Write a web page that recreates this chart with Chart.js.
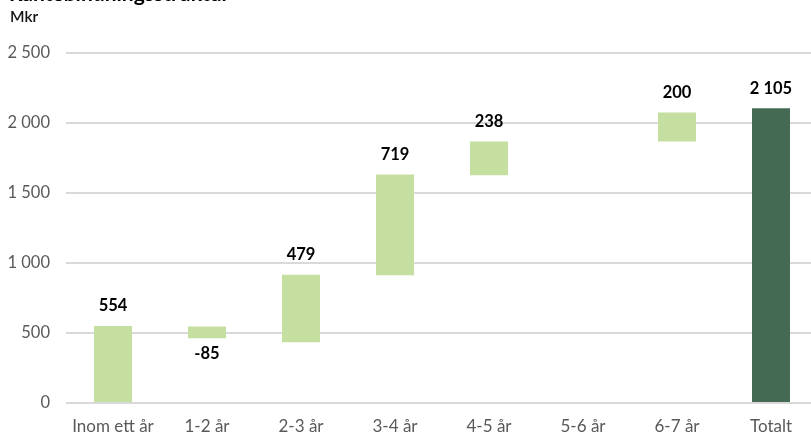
<!DOCTYPE html>
<html>
<head>
<meta charset="utf-8">
<script src="https://cdn.jsdelivr.net/npm/chart.js@4.4.1/dist/chart.umd.min.js"></script>
<style>
  html, body { margin: 0; padding: 0; background: #fff; overflow: hidden; }
  #wrap { position: relative; width: 818px; height: 435px; }
  #title { position: absolute; left: 9px; top: -18px; font: bold 21px Lato, sans-serif; line-height: 21px; color: #000; white-space: nowrap; }
  #unit { position: absolute; left: 10px; top: 7px; font: 600 15.5px Lato, sans-serif; color: #111; }
  canvas { position: absolute; left: 0; top: 0; }
</style>
</head>
<body>
<div id="wrap">
  <canvas id="chart" width="818" height="435"></canvas>
  <div id="title">Räntebindningsstruktur</div>
  <div id="unit">Mkr</div>
</div>
<script>
// Data
const categories = ['Inom ett år', '1-2 år', '2-3 år', '3-4 år', '4-5 år', '5-6 år', '6-7 år', 'Totalt'];
const barStart = [0, 463, 434, 912, 1626, null, 1868, 0];
const barEnd = [550, 547, 916, 1632, 1868, null, 2075, 2105];
const changes = [554, -85, 479, 719, 238, null, 200, 2105];
const yTicks = [0, 500, 1000, 1500, 2000, 2500];

const lightGreen = '#c5dfa0';
const darkGreen = '#456a53';

function fmt(v) {
  const s = String(Math.abs(v)).replace(/\B(?=(\d{3})+(?!\d))/g, ' ');
  return (v < 0 ? '-' : '') + s;
}

const barData = categories.map((c, i) => barStart[i] === null ? null : [barStart[i], barEnd[i]]);
const barColors = categories.map((c, i) => i === categories.length - 1 ? darkGreen : lightGreen);

// draws the change value above (or below, if negative) each bar
const valueLabels = {
  id: 'valueLabels',
  afterDatasetsDraw(chart) {
    const ctx = chart.ctx;
    const meta = chart.getDatasetMeta(0);
    const y = chart.scales.y;
    ctx.save();
    ctx.font = 'bold 16.5px Lato, sans-serif';
    ctx.fillStyle = '#000';
    ctx.textAlign = 'center';
    ctx.textBaseline = 'middle';
    meta.data.forEach((bar, i) => {
      const v = changes[i];
      if (v === null || barStart[i] === null) return;
      const top = y.getPixelForValue(Math.max(barStart[i], barEnd[i]));
      const bottom = y.getPixelForValue(Math.min(barStart[i], barEnd[i]));
      const ty = v < 0 ? bottom + 15 : top - 20;
      ctx.fillText(fmt(v), bar.x, ty);
    });
    ctx.restore();
  }
};

const ctx = document.getElementById('chart').getContext('2d');
new Chart(ctx, {
  type: 'bar',
  data: {
    labels: categories,
    datasets: [{
      data: barData,
      backgroundColor: barColors,
      borderWidth: 0,
      barPercentage: 0.404,
      categoryPercentage: 1
    }]
  },
  options: {
    responsive: false,
    animation: false,
    layout: { padding: { top: 53, right: 0, bottom: 0, left: 0 } },
    plugins: {
      legend: { display: false },
      tooltip: { enabled: false }
    },
    scales: {
      x: {
        grid: { display: false, drawTicks: false },
        border: { display: false },
        ticks: {
          color: '#595959',
          font: { family: 'Lato', size: 17 },
          padding: 13,
          maxRotation: 0
        },
        afterFit(scale) { scale.height = 32; }
      },
      y: {
        min: 0,
        max: 2500,
        afterBuildTicks(scale) { scale.ticks = yTicks.map(v => ({ value: v })); },
        grid: { color: '#d9d9d9', lineWidth: 2, drawTicks: false },
        border: { display: false },
        ticks: {
          color: '#595959',
          font: { family: 'Lato', size: 16.5 },
          padding: 16,
          callback: v => fmt(v)
        },
        afterFit(scale) { scale.width = 66; }
      }
    }
  },
  plugins: [valueLabels]
});
</script>
</body>
</html>
